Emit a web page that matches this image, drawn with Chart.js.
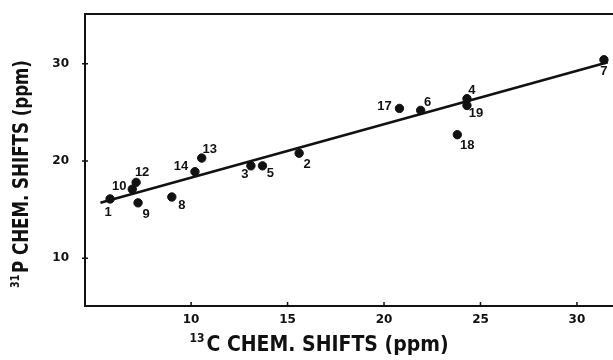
<!DOCTYPE html>
<html>
<head>
<meta charset="utf-8">
<script src="https://cdn.jsdelivr.net/npm/chart.js@4.4.1/dist/chart.umd.min.js"></script>
<style>
  html, body { margin: 0; padding: 0; background: #fff; }
</style>
</head>
<body>
<canvas id="shift-chart" width="613" height="360"></canvas>
<script>
// compound numbers and their shifts (ppm)
var compounds = ['1', '2', '3', '4', '5', '6', '7', '8', '9', '10', '12', '13', '14', '17', '18', '19'];
var carbonShift = [5.8, 15.6, 13.1, 24.3, 13.7, 21.9, 31.4, 9.0, 7.25, 6.95, 7.15, 10.55, 10.2, 20.8, 23.8, 24.3];
var phosphorusShift = [16.1, 20.8, 19.5, 26.4, 19.5, 25.2, 30.4, 16.3, 15.7, 17.1, 17.8, 20.3, 18.9, 25.4, 22.7, 25.7];

// regression line end points
var fitCarbon = [5.3, 31.6];
var fitPhosphorus = [15.7, 30.15];

var xTicks = [10, 15, 20, 25, 30];
var yTicks = [10, 20, 30];

// where each number sits relative to its dot (px)
var labelOffsets = {
  '1': [-2, 13], '2': [8, 11], '3': [-6, 9], '4': [5, -8], '5': [8, 8],
  '6': [7, -8], '7': [0, 12], '8': [10, 8], '9': [8, 12], '10': [-13, -3],
  '12': [6, -10], '13': [8, -9], '14': [-14, -5], '17': [-15, -2],
  '18': [10, 11], '19': [9, 8]
};

var titleFont = '"DejaVu Sans Condensed", "DejaVu Sans", sans-serif';

function drawTitle(ctx, sup, main, size) {
  var supSize = Math.round(size * 0.55);
  ctx.font = 'bold ' + supSize + 'px ' + titleFont;
  var supW = ctx.measureText(sup).width;
  ctx.font = 'bold ' + size + 'px ' + titleFont;
  var mainW = ctx.measureText(main).width;
  var x0 = -(supW + 2 + mainW) / 2;
  ctx.textAlign = 'left';
  ctx.textBaseline = 'alphabetic';
  ctx.fillText(main, x0 + supW + 2, 0);
  ctx.font = 'bold ' + supSize + 'px ' + titleFont;
  ctx.fillText(sup, x0, -size * 0.42);
}

var framePlugin = {
  id: 'frame',
  afterDraw: function (chart) {
    var ctx = chart.ctx;
    var a = chart.chartArea;
    var xs = chart.scales.x, ys = chart.scales.y;
    ctx.save();
    ctx.strokeStyle = '#111';
    ctx.lineWidth = 2;
    ctx.beginPath();
    ctx.moveTo(chart.width, a.top);
    ctx.lineTo(a.left, a.top);
    ctx.lineTo(a.left, a.bottom);
    ctx.lineTo(chart.width, a.bottom);
    ctx.stroke();
    ctx.lineWidth = 1.5;
    ctx.beginPath();
    xTicks.forEach(function (v) {
      var px = xs.getPixelForValue(v);
      ctx.moveTo(px, a.bottom);
      ctx.lineTo(px, a.bottom - 4);
    });
    yTicks.forEach(function (v) {
      var py = ys.getPixelForValue(v);
      ctx.moveTo(a.left - 3, py);
      ctx.lineTo(a.left + 3, py);
    });
    ctx.stroke();

    // point numbers
    var meta = chart.getDatasetMeta(0);
    ctx.fillStyle = '#111';
    ctx.font = 'bold 13px "Liberation Sans", Arial, sans-serif';
    ctx.textAlign = 'center';
    ctx.textBaseline = 'middle';
    meta.data.forEach(function (pt, i) {
      var off = labelOffsets[compounds[i]] || [8, 8];
      ctx.fillText(compounds[i], pt.x + off[0], pt.y + off[1]);
    });

    // axis titles
    ctx.save();
    ctx.translate(319, 351);
    drawTitle(ctx, '13', 'C CHEM. SHIFTS (ppm)', 21);
    ctx.restore();
    ctx.save();
    ctx.translate(28, 174);
    ctx.rotate(-Math.PI / 2);
    ctx.scale(0.88, 1);
    drawTitle(ctx, '31', 'P CHEM. SHIFTS (ppm)', 21);
    ctx.restore();
    ctx.restore();
  }
};

var tickFont = { family: '"DejaVu Sans", sans-serif', size: 12, weight: 'bold' };

new Chart(document.getElementById('shift-chart').getContext('2d'), {
  type: 'scatter',
  data: {
    datasets: [{
      data: carbonShift.map(function (c, i) { return { x: c, y: phosphorusShift[i] }; }),
      backgroundColor: '#111',
      borderColor: '#111',
      pointRadius: 4.2,
      clip: false
    }, {
      type: 'line',
      data: fitCarbon.map(function (c, i) { return { x: c, y: fitPhosphorus[i] }; }),
      borderColor: '#111',
      borderWidth: 2.5,
      pointRadius: 0,
      fill: false,
      clip: false
    }]
  },
  options: {
    responsive: false,
    animation: false,
    layout: { padding: { top: 14, right: 0, left: 0, bottom: 0 } },
    plugins: { legend: { display: false }, tooltip: { enabled: false } },
    scales: {
      x: {
        type: 'linear',
        min: 4.5,
        max: 31.6,
        grid: { display: false, drawTicks: false },
        border: { display: false },
        afterBuildTicks: function (s) { s.ticks = xTicks.map(function (v) { return { value: v }; }); },
        afterFit: function (s) { s.height = 54; s.paddingLeft = 0; s.paddingRight = 0; },
        ticks: { color: '#111', font: tickFont, padding: 7, maxRotation: 0 }
      },
      y: {
        min: 5.1,
        max: 35.1,
        grid: { display: false, drawTicks: false },
        border: { display: false },
        afterBuildTicks: function (s) { s.ticks = yTicks.map(function (v) { return { value: v }; }); },
        afterFit: function (s) { s.width = 85; s.paddingTop = 0; s.paddingBottom = 0; },
        ticks: { color: '#111', font: tickFont, padding: 16 }
      }
    }
  },
  plugins: [framePlugin]
});
</script>
</body>
</html>
